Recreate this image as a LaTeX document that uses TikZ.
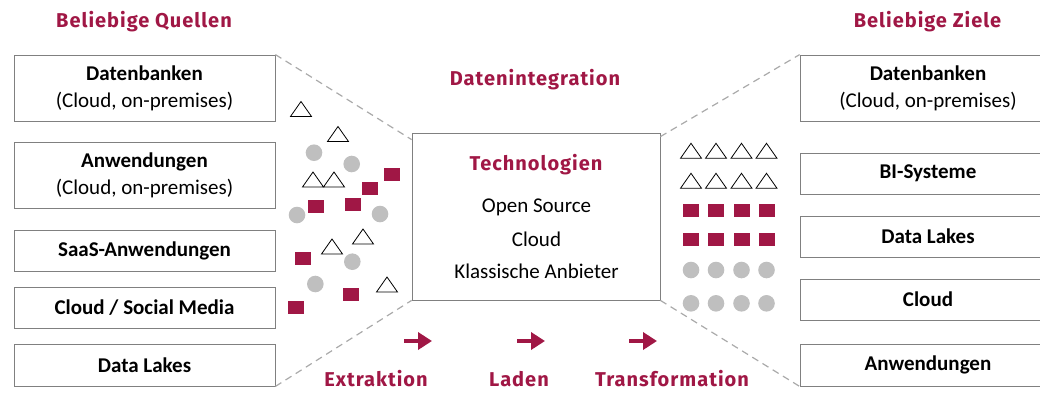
\documentclass[tikz,border=0pt]{standalone}
\usepackage{fontspec}
\setmainfont{Carlito}
\newfontfamily\titlefont[LetterSpace=5]{Fira Sans}
\usetikzlibrary{arrows.meta,positioning,calc}
\definecolor{weinrot}{RGB}{160,23,69}
\definecolor{randgrau}{RGB}{128,128,128}
\definecolor{strichgrau}{RGB}{170,170,170}
\definecolor{punktgrau}{RGB}{191,191,191}
\tikzset{ar/.style={-{Triangle[length=14pt,width=17pt]},line width=4pt,weinrot}}
\tikzstyle{qbox}=[draw=randgrau, line width=0.8pt, inner sep=0pt, align=center, font=\fontsize{21}{27}\selectfont]
\tikzstyle{titel}=[anchor=base, text=weinrot, inner sep=0pt, font=\titlefont\bfseries\fontsize{20}{24}\selectfont]
\tikzstyle{zeile}=[anchor=base, inner sep=0pt, font=\fontsize{21}{27}\selectfont]
\tikzstyle{trenn}=[draw=strichgrau, line width=1.2pt, dash pattern=on 7pt off 5pt]
\tikzstyle{tri}=[draw=black, line width=0.8pt]
\tikzstyle{sq}=[fill=weinrot]
\tikzstyle{dot}=[fill=punktgrau]
\newcommand{\dreieck}[2]{\draw[tri] (#1-10.5,#2+7.5) -- (#1,#2-7.5) -- (#1+10.5,#2+7.5) -- cycle;}
\newcommand{\quadrat}[2]{\fill[sq] (#1-8,#2-6.5) rectangle (#1+8,#2+6.5);}
\newcommand{\punkt}[2]{\fill[dot] (#1,#2) circle (8.3);}

\begin{document}
\begin{tikzpicture}[x=1pt,y=-1pt]
    \useasboundingbox (0,0) rectangle (1040,392);
    % Quellen
    \node[titel] (tq) at (144,27.3) {Beliebige Quellen};
    \node[qbox, minimum width=261pt, minimum height=66pt] (q1) at (144.5,88) {\textbf{Datenbanken}\\(Cloud, on-premises)};
    \node[qbox, minimum width=261pt, minimum height=66pt] (q2) at (144.5,175) {\textbf{Anwendungen}\\(Cloud, on-premises)};
    \node[qbox, minimum width=261pt, minimum height=41pt] (q3) at (144.5,250.5) {\textbf{SaaS-Anwendungen}};
    \node[qbox, minimum width=261pt, minimum height=41pt] (q4) at (144.5,307.5) {\textbf{Cloud / Social Media}};
    \node[qbox, minimum width=261pt, minimum height=42pt] (q5) at (144.5,365) {\textbf{Data Lakes}};
    % Ziele
    \node[titel] (tz) at (927.5,27.3) {Beliebige Ziele};
    \node[qbox, minimum width=256pt, minimum height=66pt] (z1) at (928,88) {\textbf{Datenbanken}\\(Cloud, on-premises)};
    \node[qbox, minimum width=256pt, minimum height=41pt] (z2) at (928,173.5) {\textbf{BI-Systeme}};
    \node[qbox, minimum width=256pt, minimum height=41pt] (z3) at (928,236.5) {\textbf{Data Lakes}};
    \node[qbox, minimum width=256pt, minimum height=41pt] (z4) at (928,299.5) {\textbf{Cloud}};
    \node[qbox, minimum width=256pt, minimum height=42pt] (z5) at (928,365) {\textbf{Anwendungen}};
    % Datenintegration
    \node[titel] (di) at (535,85) {Datenintegration};
    \node[draw=randgrau, line width=0.8pt, minimum width=248pt, minimum height=167pt] (tech) at (536,216.5) {};
    \node[titel] (tt) at (536,170) {Technologien};
    \node[zeile] (t1) at (536.5,212) {Open Source};
    \node[zeile] (t2) at (536.5,246) {Cloud};
    \node[zeile] (t3) at (536.5,278) {Klassische Anbieter};
    \draw[trenn] (q1.north east) -- ([yshift=-7pt]tech.north west);
    \draw[trenn] (q5.south east) -- (tech.south west);
    \draw[trenn] ([yshift=-4pt]tech.north east) -- (z1.north west);
    \draw[trenn] (tech.south east) -- (z5.south west);
    % Datenpunkte links
    \dreieck{301}{109} \dreieck{338}{134} \dreieck{313}{179.5} \dreieck{334}{179.5}
    \dreieck{363}{236.5} \dreieck{332}{246.5} \dreieck{387}{284.5}
    \punkt{314}{152.7} \punkt{351.7}{164} \punkt{297}{215} \punkt{380}{214}
    \punkt{352.3}{261.7} \punkt{315.3}{284}
    \quadrat{392}{174.3} \quadrat{370}{188.3} \quadrat{316}{206.3} \quadrat{353}{204.3}
    \quadrat{303}{258.3} \quadrat{351}{294.3} \quadrat{296}{307.3}
    % Datenpunkte rechts
    \foreach \x in {691,716,741.5,766.5}{
        \dreieck{\x}{150.8} \dreieck{\x}{180.8}
        \quadrat{\x}{210.3} \quadrat{\x}{239.3}
        \punkt{\x}{270} \punkt{\x}{303.3}
    }
    % Schritte
    \coordinate (e1) at (404,341); \coordinate (e2) at (432,341);
    \coordinate (l1) at (517,341); \coordinate (l2) at (545,341);
    \coordinate (f1) at (629,341); \coordinate (f2) at (657,341);
    \draw[ar] (e1) -- (e2);
    \draw[ar] (l1) -- (l2);
    \draw[ar] (f1) -- (f2);
    \node[titel] (ex) at (376,386) {Extraktion};
    \node[titel] (la) at (519,386) {Laden};
    \node[titel] (tr) at (672,386) {Transformation};
\end{tikzpicture}
\end{document}
